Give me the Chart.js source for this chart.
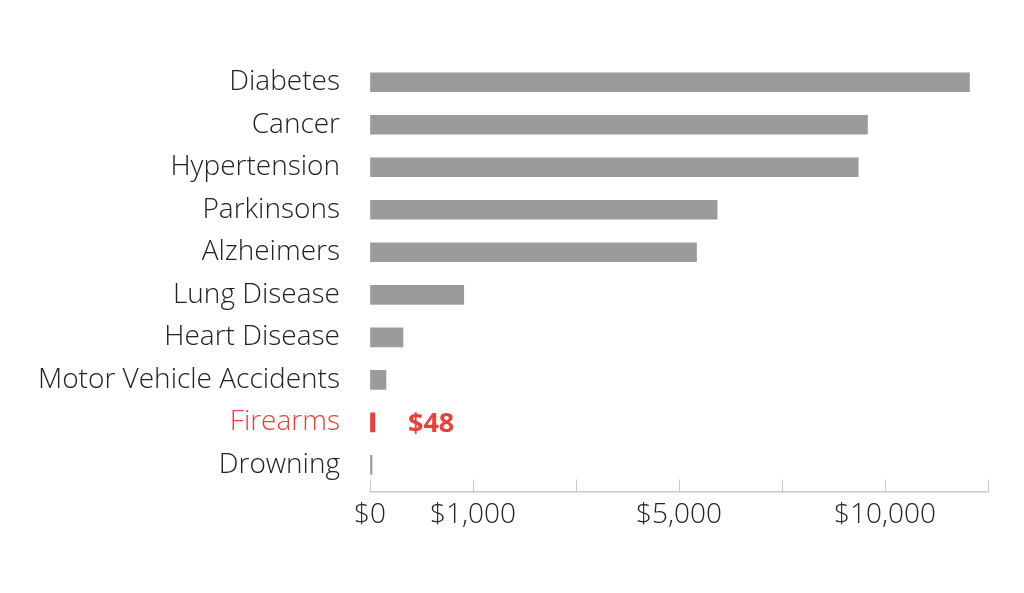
<!DOCTYPE html>
<html>
<head>
<meta charset="utf-8">
<script src="https://cdn.jsdelivr.net/npm/chart.js@4"></script>
<style>
html,body{margin:0;padding:0;background:#fff;}
#wrap{width:1024px;height:593px;}
</style>
</head>
<body>
<div id="wrap"><canvas id="c" width="1024" height="593"></canvas></div>
<script>
const categories = ["Diabetes","Cancer","Hypertension","Parkinsons","Alzheimers","Lung Disease","Heart Disease","Motor Vehicle Accidents","Firearms","Drowning"];
const values = [12050, 9575, 9350, 5925, 5425, 910, 320, 155, 48, 20];
const highlight = "Firearms";
const highlightLabel = "$48";
// axis break points (dollars at each evenly spaced tick) and their labels
const tickDollars = [0, 1000, 3000, 5000, 7500, 10000, 12500];
const tickLabels = ["$0", "$1,000", "", "$5,000", "", "$10,000", ""];

const GREY = "#9a9b9d", RED = "#e8413b";
function toAxis(v){
  for (let i=1;i<tickDollars.length;i++){
    if (v <= tickDollars[i]) return (i-1) + (v - tickDollars[i-1])/(tickDollars[i]-tickDollars[i-1]);
  }
  const n = tickDollars.length-1;
  return n + (v - tickDollars[n])/(tickDollars[n]-tickDollars[n-1]);
}
const FONT = "'Open Sans', 'Noto Sans', sans-serif";

const labelPlugin = {
  id: 'hl',
  afterDatasetsDraw(chart){
    const idx = categories.indexOf(highlight);
    const bar = chart.getDatasetMeta(0).data[idx];
    const ctx = chart.ctx;
    ctx.save();
    ctx.font = "700 27px " + FONT;
    ctx.fillStyle = RED;
    ctx.textAlign = 'left';
    ctx.textBaseline = 'middle';
    ctx.fillText(highlightLabel, bar.x + 33, bar.y + 2);
    ctx.restore();
  }
};

new Chart(document.getElementById('c'), {
  type: 'bar',
  data: {
    labels: categories,
    datasets: [{
      data: values.map(toAxis),
      backgroundColor: categories.map(c => c === highlight ? RED : GREY),
      barThickness: 19,
      borderSkipped: false
    }]
  },
  options: {
    indexAxis: 'y',
    responsive: false,
    animation: false,
    devicePixelRatio: 1,
    layout: { padding: { top: 61, right: 36, bottom: 42, left: 0 } },
    plugins: { legend: { display: false }, tooltip: { enabled: false } },
    scales: {
      x: {
        type: 'linear', min: 0, max: tickDollars.length-1,
        afterBuildTicks: s => { s.ticks = tickDollars.map((d,i)=>({value:i})); },
        ticks: {
          callback: (v, i) => tickLabels[i],
          font: { family: FONT, size: 28, weight: 300 },
          color: '#222', maxRotation: 0, autoSkip: false, padding: 19
        },
        grid: { drawOnChartArea: false, drawTicks: true, tickLength: -12, color: '#c9c9c9', lineWidth: 1 },
        border: { display: true, color: '#c9c9c9', width: 1.5 }
      },
      y: {
        type: 'category',
        afterFit: s => { s.width = 370; },
        afterBuildTicks: s => { s._valueRange = categories.length + 0.125; },
        ticks: {
          font: { family: FONT, size: 28, weight: 300 },
          color: ctx => categories[ctx.index] === highlight ? RED : '#222',
          padding: 22
        },
        grid: { display: false },
        border: { display: false }
      }
    }
  },
  plugins: [labelPlugin]
});
</script>
</body>
</html>
